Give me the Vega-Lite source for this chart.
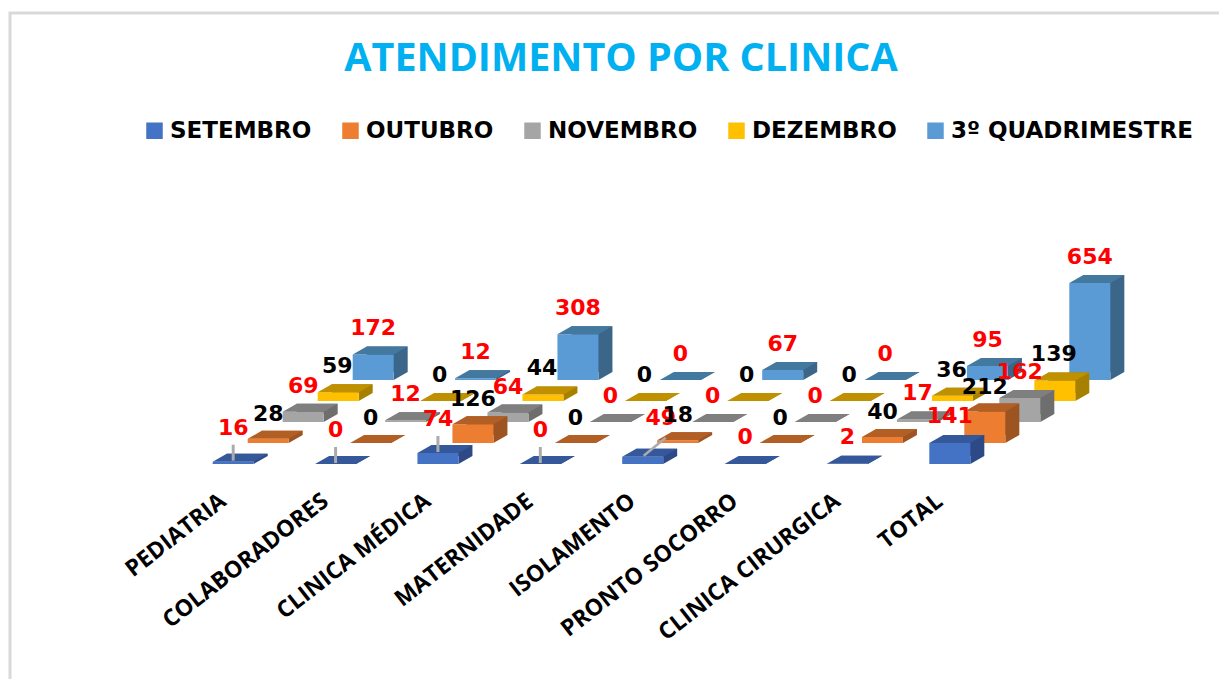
{"$schema":"https://vega.github.io/schema/vega-lite/v6.json","autosize":{"type":"none"},"padding":{"left":10,"top":13,"right":-3,"bottom":-3},"width":1212,"height":669,"background":"white","config":{"view":{"stroke":"#D9D9D9","strokeWidth":3,"fill":"white"}},"title":{"text":"ATENDIMENTO POR CLINICA","font":"Open Sans","fontWeight":"bold","fontSize":39.5,"color":"#00B0F0","anchor":"middle","dx":5,"offset":-66},"data":{"values":[
{"clinica":"PEDIATRIA","serie":"SETEMBRO","valor":16},{"clinica":"PEDIATRIA","serie":"OUTUBRO","valor":28},{"clinica":"PEDIATRIA","serie":"NOVEMBRO","valor":69},{"clinica":"PEDIATRIA","serie":"DEZEMBRO","valor":59},{"clinica":"PEDIATRIA","serie":"3º QUADRIMESTRE","valor":172},
{"clinica":"COLABORADORES","serie":"SETEMBRO","valor":0},{"clinica":"COLABORADORES","serie":"OUTUBRO","valor":0},{"clinica":"COLABORADORES","serie":"NOVEMBRO","valor":12},{"clinica":"COLABORADORES","serie":"DEZEMBRO","valor":0},{"clinica":"COLABORADORES","serie":"3º QUADRIMESTRE","valor":12},
{"clinica":"CLINICA MÉDICA","serie":"SETEMBRO","valor":74},{"clinica":"CLINICA MÉDICA","serie":"OUTUBRO","valor":126},{"clinica":"CLINICA MÉDICA","serie":"NOVEMBRO","valor":64},{"clinica":"CLINICA MÉDICA","serie":"DEZEMBRO","valor":44},{"clinica":"CLINICA MÉDICA","serie":"3º QUADRIMESTRE","valor":308},
{"clinica":"MATERNIDADE","serie":"SETEMBRO","valor":0},{"clinica":"MATERNIDADE","serie":"OUTUBRO","valor":0},{"clinica":"MATERNIDADE","serie":"NOVEMBRO","valor":0},{"clinica":"MATERNIDADE","serie":"DEZEMBRO","valor":0},{"clinica":"MATERNIDADE","serie":"3º QUADRIMESTRE","valor":0},
{"clinica":"ISOLAMENTO","serie":"SETEMBRO","valor":49},{"clinica":"ISOLAMENTO","serie":"OUTUBRO","valor":18},{"clinica":"ISOLAMENTO","serie":"NOVEMBRO","valor":0},{"clinica":"ISOLAMENTO","serie":"DEZEMBRO","valor":0},{"clinica":"ISOLAMENTO","serie":"3º QUADRIMESTRE","valor":67},
{"clinica":"PRONTO SOCORRO","serie":"SETEMBRO","valor":0},{"clinica":"PRONTO SOCORRO","serie":"OUTUBRO","valor":0},{"clinica":"PRONTO SOCORRO","serie":"NOVEMBRO","valor":0},{"clinica":"PRONTO SOCORRO","serie":"DEZEMBRO","valor":0},{"clinica":"PRONTO SOCORRO","serie":"3º QUADRIMESTRE","valor":0},
{"clinica":"CLINICA CIRURGICA","serie":"SETEMBRO","valor":2},{"clinica":"CLINICA CIRURGICA","serie":"OUTUBRO","valor":40},{"clinica":"CLINICA CIRURGICA","serie":"NOVEMBRO","valor":17},{"clinica":"CLINICA CIRURGICA","serie":"DEZEMBRO","valor":36},{"clinica":"CLINICA CIRURGICA","serie":"3º QUADRIMESTRE","valor":95},
{"clinica":"TOTAL","serie":"SETEMBRO","valor":141},{"clinica":"TOTAL","serie":"OUTUBRO","valor":212},{"clinica":"TOTAL","serie":"NOVEMBRO","valor":162},{"clinica":"TOTAL","serie":"DEZEMBRO","valor":139},{"clinica":"TOTAL","serie":"3º QUADRIMESTRE","valor":654}
]},
"encoding":{"x":{"field":"clinica","type":"nominal","sort":null,"scale":{"type":"band","domain":["PEDIATRIA","COLABORADORES","CLINICA MÉDICA","MATERNIDADE","ISOLAMENTO","PRONTO SOCORRO","CLINICA CIRURGICA","TOTAL"],"range":[172,991],"paddingInner":0,"paddingOuter":0},"axis":{"title":null,"domain":false,"ticks":false,"grid":false,"offset":-184,"labelAngle":-38,"labelAlign":"right","labelBaseline":"middle","labelFont":"Open Sans","labelFontWeight":"bold","labelFontSize":23,"labelColor":"#000000","labelPadding":0,"labelOffset":-10,"labelOverlap":false,"labelLimit":400}},
"y":{"field":"valor","type":"quantitative","scale":{"domain":[0,654],"range":[451,354],"nice":false,"zero":false},"axis":null}},
"layer":[
{"transform":[{"filter":"datum.serie=='3º QUADRIMESTRE'"}],"mark":{"type":"bar","width":41,"color":"#3B6589","xOffset":154,"yOffset":-92,"y2Offset":-92}},
{"transform":[{"filter":"datum.serie=='3º QUADRIMESTRE'"}],"mark":{"type":"point","filled":true,"opacity":1,"strokeWidth":0,"size":4,"shape":"M20.5,0L34.5,-8L20.5,-8Z","color":"#3B6589","xOffset":140,"yOffset":-84},"encoding":{"y":{"datum":0}}},
{"transform":[{"filter":"datum.serie=='3º QUADRIMESTRE'"}],"mark":{"type":"bar","width":41,"xOffset":140,"yOffset":-84,"y2Offset":-84},"encoding":{"color":{"field":"serie","type":"nominal","scale":{"domain":["SETEMBRO","OUTUBRO","NOVEMBRO","DEZEMBRO","3º QUADRIMESTRE"],"range":["#4472C4","#ED7D31","#A5A5A5","#FFC000","#5B9BD5"]},"legend":{"title":null,"orient":"none","legendX":133,"legendY":106,"direction":"horizontal","columns":5,"symbolType":"square","symbolSize":272,"symbolStrokeWidth":0,"labelFont":"DejaVu Sans","labelFontWeight":"bold","labelFontSize":23,"labelColor":"#000000","labelOffset":4,"columnPadding":27,"labelLimit":400}}}},
{"transform":[{"filter":"datum.serie=='3º QUADRIMESTRE'"}],"mark":{"type":"point","filled":true,"opacity":1,"strokeWidth":0,"size":4,"shape":"M-20.5,0L20.5,0L34.5,-8L-6.5,-8Z","color":"#44799F","xOffset":140,"yOffset":-84}},
{"transform":[{"filter":"datum.serie=='DEZEMBRO'"}],"mark":{"type":"bar","width":41,"color":"#A88000","xOffset":119,"yOffset":-71,"y2Offset":-71}},
{"transform":[{"filter":"datum.serie=='DEZEMBRO'"}],"mark":{"type":"point","filled":true,"opacity":1,"strokeWidth":0,"size":4,"shape":"M20.5,0L34.5,-8L20.5,-8Z","color":"#A88000","xOffset":105,"yOffset":-63},"encoding":{"y":{"datum":0}}},
{"transform":[{"filter":"datum.serie=='DEZEMBRO'"}],"mark":{"type":"bar","width":41,"xOffset":105,"yOffset":-63,"y2Offset":-63},"encoding":{"color":{"field":"serie","type":"nominal","scale":{"domain":["SETEMBRO","OUTUBRO","NOVEMBRO","DEZEMBRO","3º QUADRIMESTRE"],"range":["#4472C4","#ED7D31","#A5A5A5","#FFC000","#5B9BD5"]}}}},
{"transform":[{"filter":"datum.serie=='DEZEMBRO'"}],"mark":{"type":"point","filled":true,"opacity":1,"strokeWidth":0,"size":4,"shape":"M-20.5,0L20.5,0L34.5,-8L-6.5,-8Z","color":"#BF9000","xOffset":105,"yOffset":-63}},
{"transform":[{"filter":"datum.serie=='NOVEMBRO'"}],"mark":{"type":"bar","width":41,"color":"#6E6E6E","xOffset":84,"yOffset":-50,"y2Offset":-50}},
{"transform":[{"filter":"datum.serie=='NOVEMBRO'"}],"mark":{"type":"point","filled":true,"opacity":1,"strokeWidth":0,"size":4,"shape":"M20.5,0L34.5,-8L20.5,-8Z","color":"#6E6E6E","xOffset":70,"yOffset":-42},"encoding":{"y":{"datum":0}}},
{"transform":[{"filter":"datum.serie=='NOVEMBRO'"}],"mark":{"type":"bar","width":41,"xOffset":70,"yOffset":-42,"y2Offset":-42},"encoding":{"color":{"field":"serie","type":"nominal","scale":{"domain":["SETEMBRO","OUTUBRO","NOVEMBRO","DEZEMBRO","3º QUADRIMESTRE"],"range":["#4472C4","#ED7D31","#A5A5A5","#FFC000","#5B9BD5"]}}}},
{"transform":[{"filter":"datum.serie=='NOVEMBRO'"}],"mark":{"type":"point","filled":true,"opacity":1,"strokeWidth":0,"size":4,"shape":"M-20.5,0L20.5,0L34.5,-8L-6.5,-8Z","color":"#7F7F7F","xOffset":70,"yOffset":-42}},
{"transform":[{"filter":"datum.serie=='OUTUBRO'"}],"mark":{"type":"bar","width":41,"color":"#9C5522","xOffset":49,"yOffset":-29,"y2Offset":-29}},
{"transform":[{"filter":"datum.serie=='OUTUBRO'"}],"mark":{"type":"point","filled":true,"opacity":1,"strokeWidth":0,"size":4,"shape":"M20.5,0L34.5,-8L20.5,-8Z","color":"#9C5522","xOffset":35,"yOffset":-21},"encoding":{"y":{"datum":0}}},
{"transform":[{"filter":"datum.serie=='OUTUBRO'"}],"mark":{"type":"bar","width":41,"xOffset":35,"yOffset":-21,"y2Offset":-21},"encoding":{"color":{"field":"serie","type":"nominal","scale":{"domain":["SETEMBRO","OUTUBRO","NOVEMBRO","DEZEMBRO","3º QUADRIMESTRE"],"range":["#4472C4","#ED7D31","#A5A5A5","#FFC000","#5B9BD5"]}}}},
{"transform":[{"filter":"datum.serie=='OUTUBRO'"}],"mark":{"type":"point","filled":true,"opacity":1,"strokeWidth":0,"size":4,"shape":"M-20.5,0L20.5,0L34.5,-8L-6.5,-8Z","color":"#B25F25","xOffset":35,"yOffset":-21}},
{"transform":[{"filter":"datum.serie=='SETEMBRO'"}],"mark":{"type":"bar","width":41,"color":"#2E4A86","xOffset":14,"yOffset":-8,"y2Offset":-8}},
{"transform":[{"filter":"datum.serie=='SETEMBRO'"}],"mark":{"type":"point","filled":true,"opacity":1,"strokeWidth":0,"size":4,"shape":"M20.5,0L34.5,-8L20.5,-8Z","color":"#2E4A86","xOffset":0,"yOffset":0},"encoding":{"y":{"datum":0}}},
{"transform":[{"filter":"datum.serie=='SETEMBRO'"}],"mark":{"type":"bar","width":41},"encoding":{"color":{"field":"serie","type":"nominal","scale":{"domain":["SETEMBRO","OUTUBRO","NOVEMBRO","DEZEMBRO","3º QUADRIMESTRE"],"range":["#4472C4","#ED7D31","#A5A5A5","#FFC000","#5B9BD5"]}}}},
{"transform":[{"filter":"datum.serie=='SETEMBRO'"}],"mark":{"type":"point","filled":true,"opacity":1,"strokeWidth":0,"size":4,"shape":"M-20.5,0L20.5,0L34.5,-8L-6.5,-8Z","color":"#34589A"}},
{"transform":[{"filter":"datum.serie=='SETEMBRO' && indexof(['PEDIATRIA','COLABORADORES','CLINICA MÉDICA','MATERNIDADE'],datum.clinica)>=0"}],"mark":{"type":"tick","orient":"vertical","size":16,"thickness":3,"color":"#ABABAB","opacity":1,"yOffset":-9}},
{"transform":[{"filter":"datum.serie=='SETEMBRO' && datum.clinica=='ISOLAMENTO'"}],"mark":{"type":"point","filled":false,"opacity":1,"strokeWidth":2.5,"size":4,"shape":"M-11,9L11,-9","color":"#ABABAB","xOffset":12,"yOffset":-10}},
{"transform":[{"filter":"datum.serie=='SETEMBRO' && indexof(['PEDIATRIA','COLABORADORES','CLINICA MÉDICA','MATERNIDADE'],datum.clinica)>=0"}],"mark":{"type":"text","font":"DejaVu Sans","fontWeight":"bold","fontSize":22,"color":"#FF0000","baseline":"middle","yOffset":-34},"encoding":{"text":{"field":"valor","type":"quantitative"}}},
{"transform":[{"filter":"datum.serie=='SETEMBRO' && indexof(['PRONTO SOCORRO','CLINICA CIRURGICA','TOTAL'],datum.clinica)>=0"}],"mark":{"type":"text","font":"DejaVu Sans","fontWeight":"bold","fontSize":22,"color":"#FF0000","baseline":"middle","yOffset":-27},"encoding":{"text":{"field":"valor","type":"quantitative"}}},
{"transform":[{"filter":"datum.serie=='SETEMBRO' && datum.clinica=='ISOLAMENTO'"}],"mark":{"type":"text","font":"DejaVu Sans","fontWeight":"bold","fontSize":22,"color":"#FF0000","baseline":"middle","xOffset":18,"yOffset":-39},"encoding":{"text":{"field":"valor","type":"quantitative"}}},
{"transform":[{"filter":"datum.serie=='OUTUBRO'"}],"mark":{"type":"text","font":"DejaVu Sans","fontWeight":"bold","fontSize":22,"color":"#000000","baseline":"middle","xOffset":35,"yOffset":-46},"encoding":{"text":{"field":"valor","type":"quantitative"}}},
{"transform":[{"filter":"datum.serie=='NOVEMBRO'"}],"mark":{"type":"text","font":"DejaVu Sans","fontWeight":"bold","fontSize":22,"color":"#FF0000","baseline":"middle","xOffset":70,"yOffset":-68},"encoding":{"text":{"field":"valor","type":"quantitative"}}},
{"transform":[{"filter":"datum.serie=='DEZEMBRO'"}],"mark":{"type":"text","font":"DejaVu Sans","fontWeight":"bold","fontSize":22,"color":"#000000","baseline":"middle","xOffset":104,"yOffset":-89},"encoding":{"text":{"field":"valor","type":"quantitative"}}},
{"transform":[{"filter":"datum.serie=='3º QUADRIMESTRE'"}],"mark":{"type":"text","font":"DejaVu Sans","fontWeight":"bold","fontSize":22,"color":"#FF0000","baseline":"middle","xOffset":140,"yOffset":-110},"encoding":{"text":{"field":"valor","type":"quantitative"}}}
]}
